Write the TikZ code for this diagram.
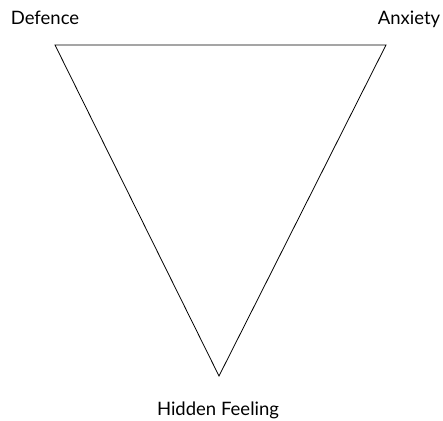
\documentclass[tikz,border=0pt]{standalone}
\usepackage{fontspec}
\setmainfont{Lato}
\usetikzlibrary{positioning}

\begin{document}
\begin{tikzpicture}[x=1pt,y=1pt,
  corner/.style={font=\fontsize{18.5}{21}\selectfont,inner sep=0pt,anchor=base}]
  \useasboundingbox (0,0) rectangle (443,420);
  % triangle corners
  \coordinate (def) at (55,375);
  \coordinate (anx) at (386,375);
  \coordinate (hid) at (219,44);
  \draw[line width=0.8pt,line join=miter] (def) -- (anx) -- (hid) -- cycle;
  % labels
  \node[corner] (ldef) at (45,395) {Defence};
  \node[corner] (lanx) at (409,395) {Anxiety};
  \node[corner] (lhid) at (218,5) {Hidden Feeling};
\end{tikzpicture}
\end{document}
